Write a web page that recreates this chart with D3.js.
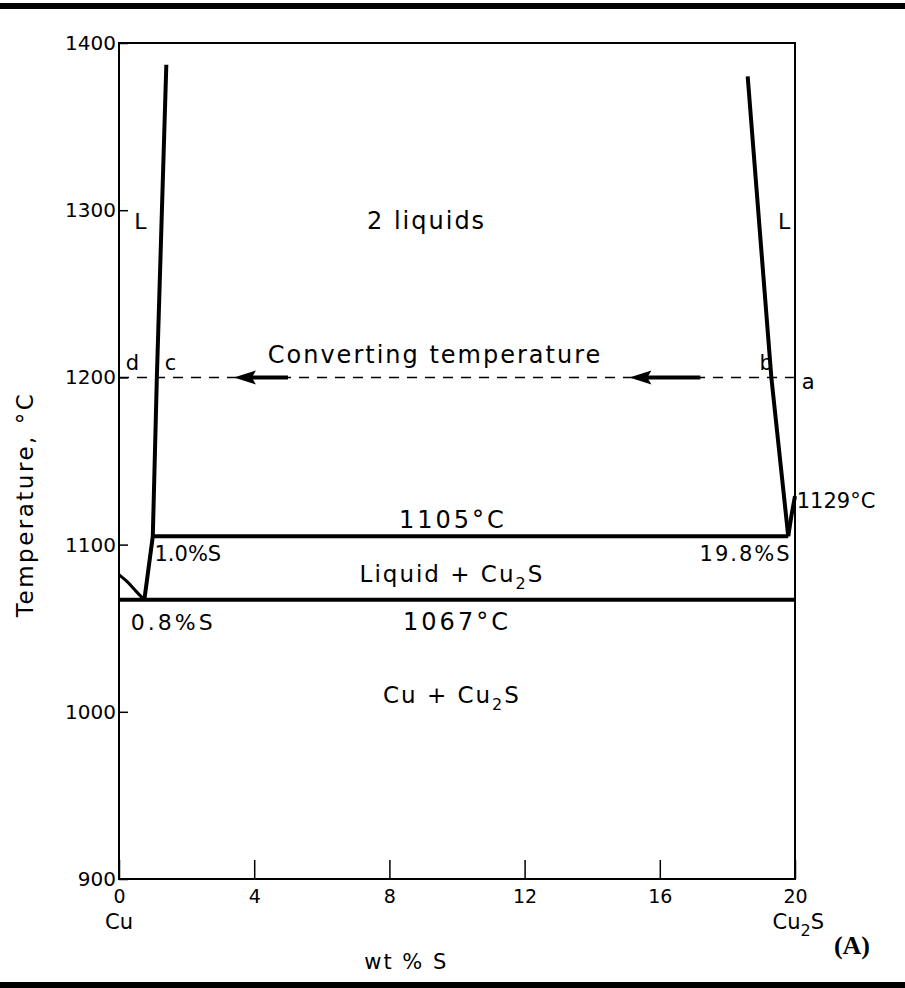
<!DOCTYPE html>
<html>
<head>
<meta charset="utf-8">
<script src="https://cdn.jsdelivr.net/npm/d3@7"></script>
<style>
    body { margin: 0; background: #fff; }
    text { font-family: "DejaVu Sans", sans-serif; fill: #000; }
</style>
</head>
<body>
<div id="chart"></div>
<script>
// tick values
var tempTicks = [900, 1000, 1100, 1200, 1300, 1400];
var wtTicks = [0, 4, 8, 12, 16, 20];

// phase boundaries, [wt % S, temperature]
var cuLiquidus = [[0, 1082], [0.25, 1078], [0.5, 1072], [0.75, 1067]];
var leftBoundary = [[0.75, 1067], [1.0, 1105], [1.12, 1200], [1.4, 1387]];
var rightBoundary = [[18.6, 1380], [19.3, 1200], [19.8, 1105]];
var cu2sLiquidus = [[19.8, 1105], [19.9, 1118], [20, 1129]];
var monotectic = [[1.0, 1105], [19.8, 1105]];
var eutectic = [[0, 1067], [20, 1067]];
var converting = [[0, 1200], [20, 1200]];

// arrows on the converting line, from -> to (wt % S)
var arrows = [[5.0, 3.4], [17.2, 15.1]];

var W = 905, H = 988;
var svg = d3.select('#chart').append('svg')
    .attr('width', W)
    .attr('height', H);

var x = d3.scaleLinear().domain([0, 20]).range([119, 795]);
var y = d3.scaleLinear().domain([900, 1400]).range([879, 43]);

// black rules top and bottom
svg.append('rect').attr('x', 0).attr('y', 3).attr('width', W).attr('height', 6).attr('fill', '#000');
svg.append('rect').attr('x', 0).attr('y', 982).attr('width', W).attr('height', 6).attr('fill', '#000');

// axes
var yAxis = d3.axisLeft(y).tickValues(tempTicks).tickFormat(d3.format('d')).tickSize(-9).tickPadding(3);
var gy = svg.append('g').attr('transform', 'translate(' + x(0) + ',0)').call(yAxis);
gy.select('.domain').remove();
gy.selectAll('line').attr('stroke', '#000').attr('stroke-width', 1.5);
gy.selectAll('text').style('font-size', '20px').attr('font-family', '"DejaVu Sans", sans-serif');

var xAxis = d3.axisBottom(x).tickValues(wtTicks).tickSize(-19).tickPadding(11);
var gx = svg.append('g').attr('transform', 'translate(0,' + y(900) + ')').call(xAxis);
gx.select('.domain').remove();
gx.selectAll('line').attr('stroke', '#000').attr('stroke-width', 1.5);
gx.selectAll('text').style('font-size', '19px').attr('font-family', '"DejaVu Sans", sans-serif');

// frame
svg.append('rect')
    .attr('x', x(0)).attr('y', y(1400))
    .attr('width', x(20) - x(0)).attr('height', y(900) - y(1400))
    .attr('fill', 'none').attr('stroke', '#000').attr('stroke-width', 2);

var line = d3.line().x(function(d) { return x(d[0]); }).y(function(d) { return y(d[1]); });
var curve = d3.line().curve(d3.curveBasis).x(function(d) { return x(d[0]); }).y(function(d) { return y(d[1]); });

// converting temperature (dashed)
svg.append('path').attr('d', line(converting))
    .attr('fill', 'none').attr('stroke', '#000').attr('stroke-width', 1.5)
    .attr('stroke-dasharray', '10,8');

svg.append('path').attr('d', curve(cuLiquidus))
    .attr('fill', 'none').attr('stroke', '#000').attr('stroke-width', 3);

[leftBoundary, rightBoundary, cu2sLiquidus, monotectic, eutectic].forEach(function(p) {
    svg.append('path').attr('d', line(p))
        .attr('fill', 'none').attr('stroke', '#000').attr('stroke-width', 4)
        .attr('stroke-linejoin', 'miter');
});

// arrows
arrows.forEach(function(a) {
    var y0 = y(1200), tip = x(a[1]), tail = x(a[0]);
    svg.append('line')
        .attr('x1', tail).attr('x2', tip + 15)
        .attr('y1', y0).attr('y2', y0)
        .attr('stroke', '#000').attr('stroke-width', 4);
    svg.append('path')
        .attr('d', 'M' + tip + ',' + y0 + 'L' + (tip + 22) + ',' + (y0 - 7) +
            'L' + (tip + 18) + ',' + y0 + 'L' + (tip + 22) + ',' + (y0 + 7) + 'Z')
        .attr('fill', '#000');
});

// labels
function label(t, px, py, size, anchor, spacing) {
    return svg.append('text')
        .attr('x', px).attr('y', py)
        .attr('text-anchor', anchor || 'start')
        .style('font-size', (size || 20) + 'px')
        .style('letter-spacing', (spacing || 0) + 'px')
        .text(t);
}
function sub2(t) {
    t.append('tspan').attr('dy', 7).style('font-size', '16px').text('2');
    t.append('tspan').attr('dy', -7).text('S');
}

label('2 liquids', x(9.1), y(1289), 24, 'middle', 2);
label('L', x(0.45), y(1289), 22);
label('L', x(19.5), y(1289), 22);
label('d', x(0.2), y(1204.5), 21);
label('c', x(1.35), y(1204.5), 21);
label('Converting temperature', x(9.35), y(1208.5), 24, 'middle', 2);
label('b', x(18.95), y(1204.5), 21);
label('a', x(20.2), y(1193), 21);
label('1105\u00b0C', x(9.88), y(1110), 24, 'middle', 3);
label('1.0%S', x(1.05), y(1090), 21, 'start', 0);
label('19.8%S', x(19.9), y(1090), 21, 'end', 2);
label('1129\u00b0C', x(20.05), y(1122), 21, 'start', 0);

sub2(label('Liquid + Cu', x(9.85), y(1077.5), 23, 'middle', 2));

label('0.8%S', x(0.35), y(1049), 22, 'start', 3);
label('1067\u00b0C', x(10.0), y(1049), 24, 'middle', 3);

sub2(label('Cu + Cu', x(9.85), y(1005.5), 23, 'middle', 2));

label('Cu', x(0), 929, 21, 'middle');
sub2(label('Cu', x(20.1), 929, 21, 'middle'));

label('wt % S', x(8.5), 969, 21, 'middle', 2);

svg.append('text')
    .attr('x', 870).attr('y', 954)
    .attr('text-anchor', 'end')
    .style('font-family', '"Liberation Serif", serif')
    .style('font-weight', 'bold')
    .style('font-size', '26px')
    .text('(A)');

svg.append('text')
    .attr('transform', 'translate(33,' + y(1124) + ') rotate(-90)')
    .attr('text-anchor', 'middle')
    .style('font-size', '23px')
    .style('letter-spacing', '2.5px')
    .text('Temperature,   \u00b0C');
</script>
</body>
</html>
